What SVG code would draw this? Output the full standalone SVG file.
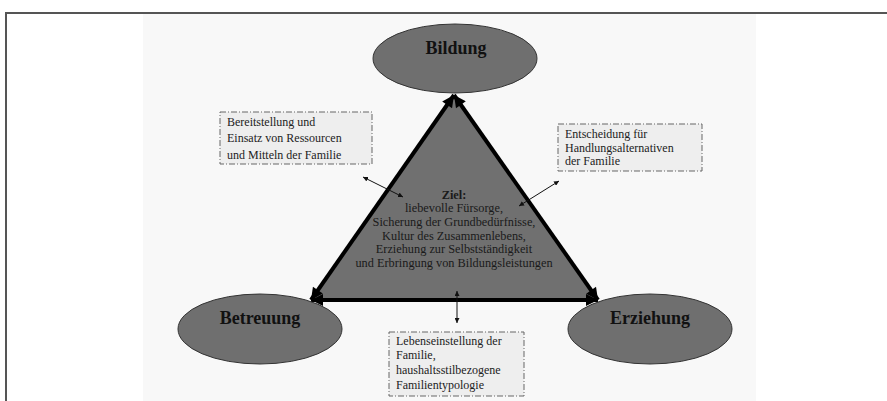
<svg xmlns="http://www.w3.org/2000/svg" width="887" height="401" viewBox="0 0 887 401">
<defs>
<style>
.ell{fill:#6f6f6f;stroke:#333;stroke-width:1}
.ttl{font-family:"Liberation Serif",serif;font-weight:bold;font-size:18px;fill:#111;text-anchor:middle}
.box{fill:#eeeeee;stroke:#666;stroke-width:1;stroke-dasharray:6 2 1 2}
.bt{font-family:"Liberation Serif",serif;font-size:12px;fill:#222}
.ct{font-family:"Liberation Serif",serif;font-size:12.3px;fill:#1a1a1a;text-anchor:middle}
.edge{stroke:#000;stroke-width:4;fill:none;marker-start:url(#big);marker-end:url(#big)}
.thin{stroke:#111;stroke-width:1;fill:none;marker-start:url(#small);marker-end:url(#small)}
</style>
<marker id="big" viewBox="0 0 10 10" refX="10" refY="5" markerWidth="14" markerHeight="12" markerUnits="userSpaceOnUse" orient="auto-start-reverse">
<path d="M0,0 L10,5 L0,10 z" fill="#000"/>
</marker>
<marker id="small" viewBox="0 0 10 10" refX="10" refY="5" markerWidth="5" markerHeight="5" markerUnits="userSpaceOnUse" orient="auto-start-reverse">
<path d="M0,0 L10,5 L0,10 z" fill="#111"/>
</marker>
</defs>
<rect x="0" y="0" width="887" height="401" fill="#fff"/>
<rect x="143" y="14" width="613" height="387" fill="#f8f8f8"/>
<path d="M6,401 L6,13 L887,13" fill="none" stroke="#555" stroke-width="2"/>

<g id="triangle">
<polygon points="454,95 311,300 598,300" fill="#707070"/>
<text class="ct" x="454" y="198.5" font-weight="bold">Ziel:</text>
<text class="ct" x="454" y="212.2">liebevolle Fürsorge,</text>
<text class="ct" x="454" y="225.9">Sicherung der Grundbedürfnisse,</text>
<text class="ct" x="454" y="239.6">Kultur des Zusammenlebens,</text>
<text class="ct" x="454" y="253.3">Erziehung zur Selbstständigkeit</text>
<text class="ct" x="454" y="267">und Erbringung von Bildungsleistungen</text>
</g>

<g id="connectors">
<line class="edge" x1="311" y1="300" x2="454" y2="95"/>
<line class="edge" x1="454" y1="95" x2="598" y2="300"/>
<line class="edge" x1="311" y1="300" x2="598" y2="300"/>
<line class="thin" x1="363" y1="177" x2="403" y2="197"/>
<line class="thin" x1="519" y1="206" x2="559" y2="181"/>
<line class="thin" x1="457" y1="291" x2="457" y2="323"/>
</g>

<g id="bildung">
<ellipse class="ell" cx="455" cy="58.5" rx="82" ry="34.5"/>
<text class="ttl" x="456" y="54">Bildung</text>
</g>
<g id="betreuung">
<ellipse class="ell" cx="260" cy="329" rx="82" ry="35"/>
<text class="ttl" x="260" y="324">Betreuung</text>
</g>
<g id="erziehung">
<ellipse class="ell" cx="650" cy="329" rx="82" ry="35"/>
<text class="ttl" x="650" y="324">Erziehung</text>
</g>

<g id="box-ressourcen">
<rect class="box" x="220" y="112" width="152" height="52"/>
<text class="bt" x="227" y="125.5">Bereitstellung und</text>
<text class="bt" x="227" y="142">Einsatz von Ressourcen</text>
<text class="bt" x="227" y="158.5">und Mitteln der Familie</text>
</g>
<g id="box-entscheidung">
<rect class="box" x="558" y="124" width="144" height="47"/>
<text class="bt" x="565" y="138">Entscheidung für</text>
<text class="bt" x="565" y="151.5">Handlungsalternativen</text>
<text class="bt" x="565" y="165">der Familie</text>
</g>
<g id="box-lebenseinstellung">
<rect class="box" x="389" y="332" width="135" height="64"/>
<text class="bt" x="396" y="344.5">Lebenseinstellung der</text>
<text class="bt" x="396" y="359">Familie,</text>
<text class="bt" x="396" y="374">haushaltsstilbezogene</text>
<text class="bt" x="396" y="389">Familientypologie</text>
</g>
</svg>
